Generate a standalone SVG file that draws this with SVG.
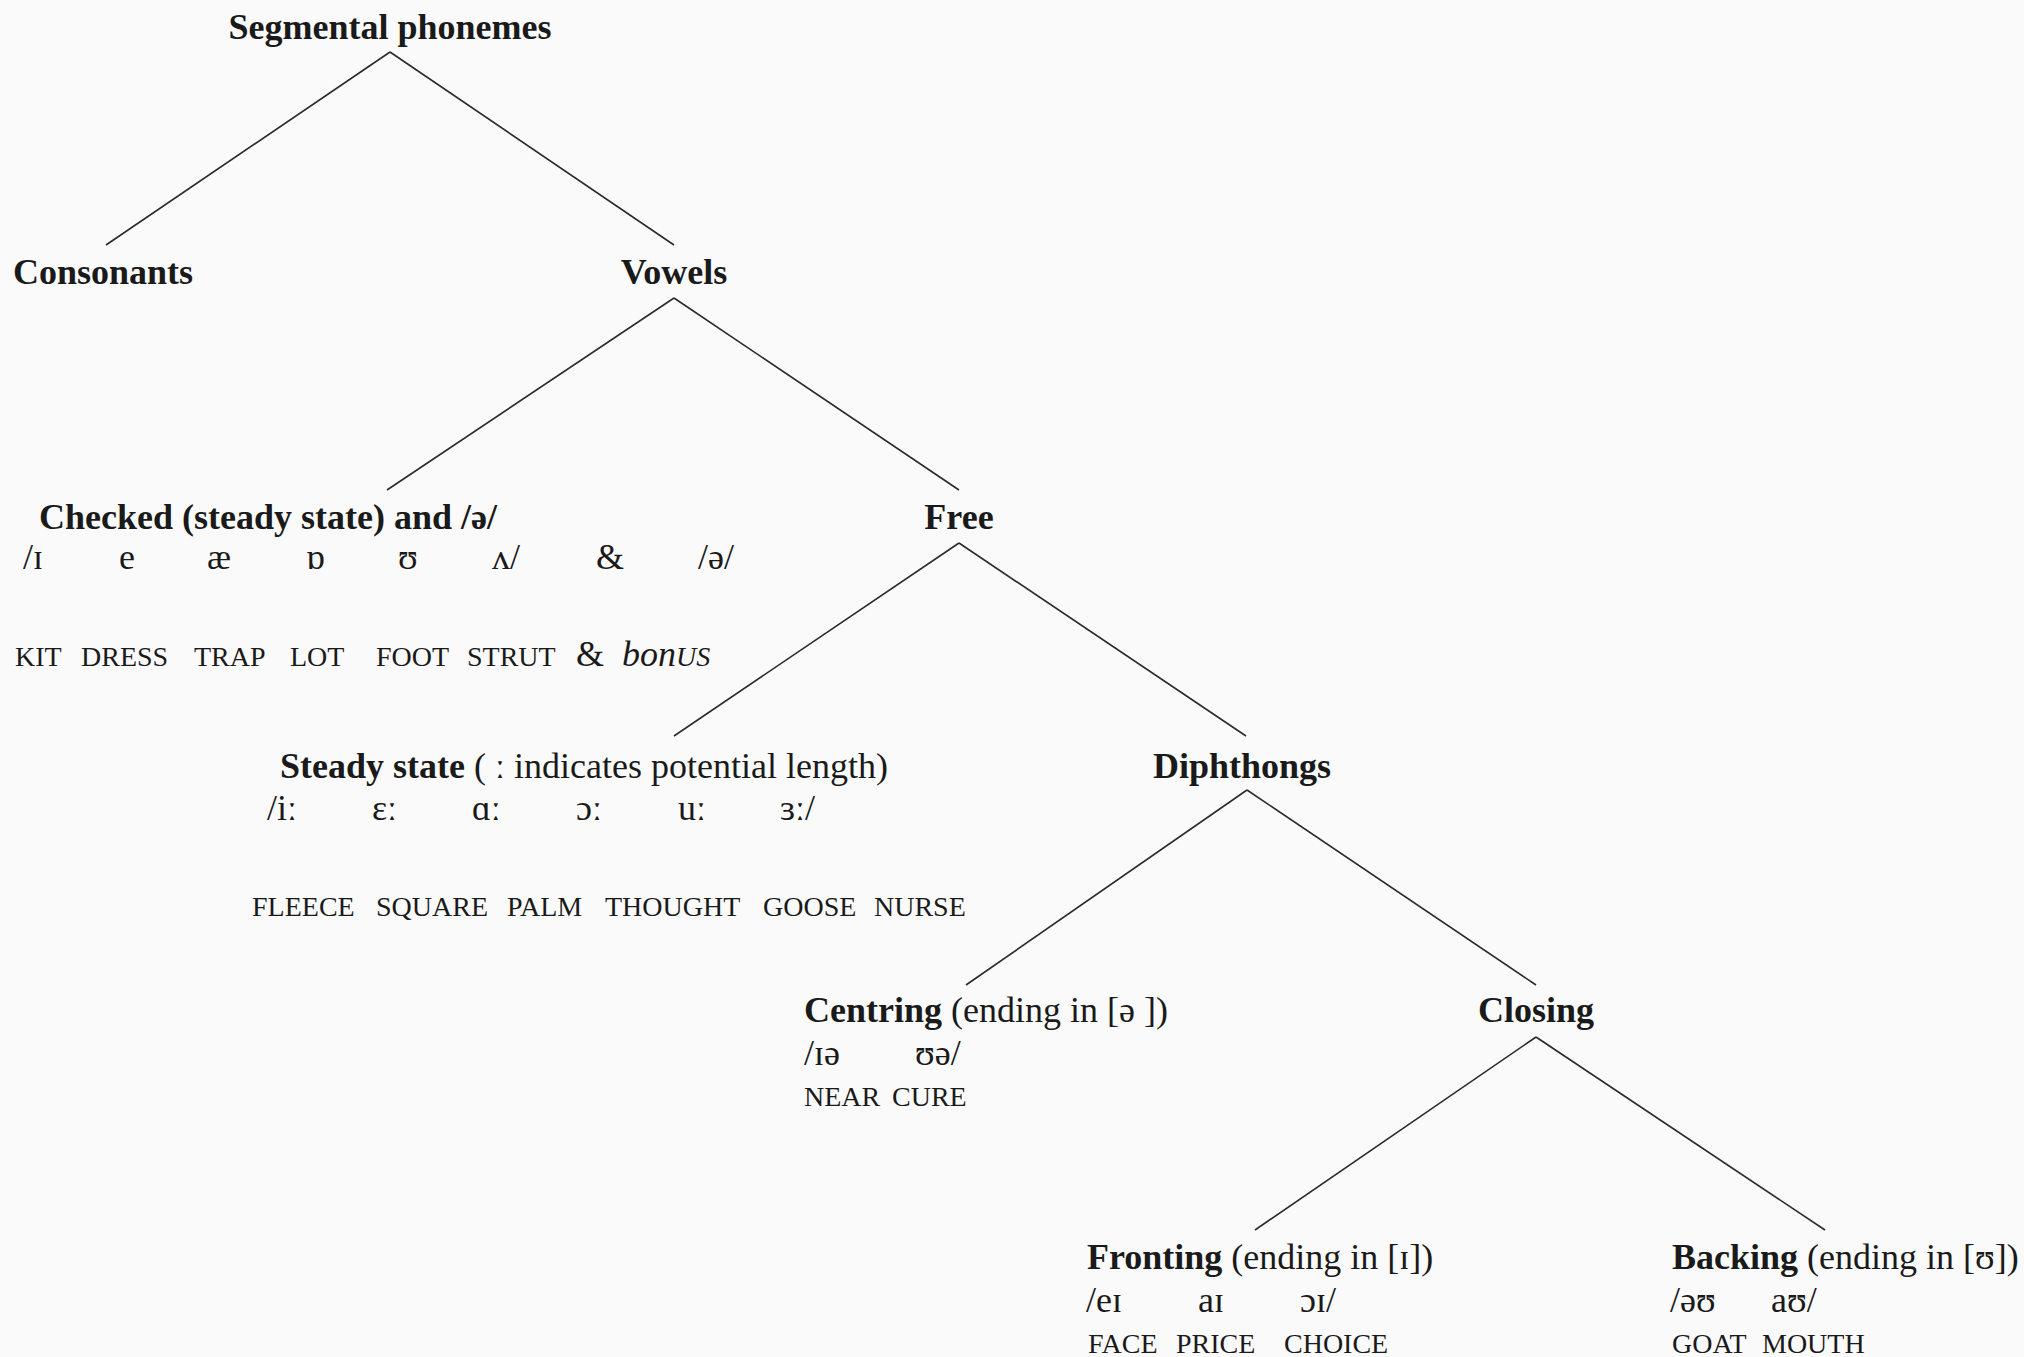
<svg xmlns="http://www.w3.org/2000/svg" width="2024" height="1357" viewBox="0 0 2024 1357">
<style>
text{font-family:"Liberation Serif","DejaVu Serif",serif;fill:#1a1a1a;font-size:36px}
.b{font-weight:bold}
.sc{font-size:28px}
.i{font-style:italic}
.edge{stroke:#2a2a2a;stroke-width:1.6;fill:none}
</style>
<rect width="2024" height="1357" fill="#fafafa"/>
<g id="connectors">
<line class="edge" x1="390" y1="52" x2="106" y2="245"/>
<line class="edge" x1="390" y1="52" x2="674" y2="245"/>
<line class="edge" x1="674" y1="298" x2="387" y2="490"/>
<line class="edge" x1="674" y1="298" x2="959" y2="490"/>
<line class="edge" x1="959" y1="543" x2="674" y2="736"/>
<line class="edge" x1="959" y1="543" x2="1246" y2="736"/>
<line class="edge" x1="1247" y1="790" x2="966" y2="985"/>
<line class="edge" x1="1247" y1="790" x2="1536" y2="985"/>
<line class="edge" x1="1536" y1="1037" x2="1255" y2="1230"/>
<line class="edge" x1="1536" y1="1037" x2="1825" y2="1230"/>
</g>
<g id="segmental">
<text class="b" x="390" y="39" text-anchor="middle">Segmental phonemes</text>
</g>
<g id="consonants">
<text class="b" x="13" y="284">Consonants</text>
</g>
<g id="vowels">
<text class="b" x="674" y="284" text-anchor="middle">Vowels</text>
</g>
<g id="checked">
<text class="b" x="39" y="529">Checked (steady state) and /ə/</text>
<text x="23" y="569">/ɪ</text>
<text x="119" y="569">e</text>
<text x="207" y="569">æ</text>
<text x="306" y="569">ɒ</text>
<text x="398" y="569">ʊ</text>
<text x="492" y="569">ʌ/</text>
<text x="596" y="569">&amp;</text>
<text x="698" y="569">/ə/</text>
<text class="sc" x="15" y="666">KIT</text>
<text class="sc" x="81" y="666">DRESS</text>
<text class="sc" x="194" y="666">TRAP</text>
<text class="sc" x="290" y="666">LOT</text>
<text class="sc" x="376" y="666">FOOT</text>
<text class="sc" x="467" y="666">STRUT</text>
<text x="576" y="666">&amp;</text>
<text x="622" y="666"><tspan class="i">bon</tspan><tspan class="sc i">US</tspan></text>
</g>
<g id="free">
<text class="b" x="959" y="529" text-anchor="middle">Free</text>
</g>
<g id="steady">
<text x="280" y="778"><tspan class="b">Steady state</tspan> ( <tspan class="b">ː</tspan> indicates potential length)</text>
<text x="267" y="820">/iː</text>
<text x="372" y="820">ɛː</text>
<text x="472" y="820">ɑː</text>
<text x="576" y="820">ɔː</text>
<text x="678" y="820">uː</text>
<text x="780" y="820">ɜː/</text>
<text class="sc" x="252" y="916">FLEECE</text>
<text class="sc" x="376" y="916">SQUARE</text>
<text class="sc" x="507" y="916">PALM</text>
<text class="sc" x="605" y="916">THOUGHT</text>
<text class="sc" x="763" y="916">GOOSE</text>
<text class="sc" x="874" y="916">NURSE</text>
</g>
<g id="diphthongs">
<text class="b" x="1242" y="778" text-anchor="middle">Diphthongs</text>
</g>
<g id="centring">
<text x="804" y="1022"><tspan class="b">Centring</tspan> (ending in [ə ])</text>
<text x="804" y="1065">/ɪə</text>
<text x="915" y="1065">ʊə/</text>
<text class="sc" x="804" y="1106">NEAR</text>
<text class="sc" x="892" y="1106">CURE</text>
</g>
<g id="closing">
<text class="b" x="1536" y="1022" text-anchor="middle">Closing</text>
</g>
<g id="fronting">
<text x="1087" y="1269"><tspan class="b">Fronting</tspan> (ending in [ɪ])</text>
<text x="1086" y="1312">/eɪ</text>
<text x="1198" y="1312">aɪ</text>
<text x="1300" y="1312">ɔɪ/</text>
<text class="sc" x="1088" y="1353">FACE</text>
<text class="sc" x="1176" y="1353">PRICE</text>
<text class="sc" x="1284" y="1353">CHOICE</text>
</g>
<g id="backing">
<text x="1672" y="1269"><tspan class="b">Backing</tspan> (ending in [ʊ])</text>
<text x="1670" y="1312">/əʊ</text>
<text x="1771" y="1312">aʊ/</text>
<text class="sc" x="1672" y="1353">GOAT</text>
<text class="sc" x="1762" y="1353">MOUTH</text>
</g>
</svg>
